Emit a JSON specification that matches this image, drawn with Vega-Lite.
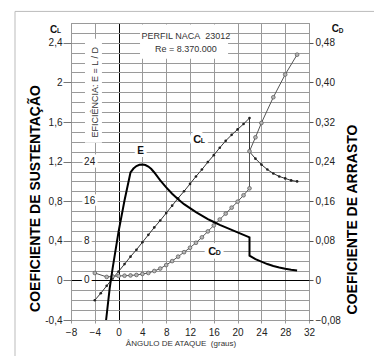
{
  "$schema": "https://vega.github.io/schema/vega-lite/v6.json",
  "width": 238,
  "height": 297,
  "autosize": {"type": "none"},
  "padding": {"left": 71, "top": 23, "right": 65, "bottom": 36},
  "background": "white",
  "config": {
    "font": "Liberation Sans",
    "view": {"stroke": "#888", "strokeWidth": 1},
    "axis": {"labelFont": "Liberation Sans", "titleFont": "Liberation Sans", "labelColor": "#222", "labelFontSize": 10}
  },
  "datasets": {
    "cl": [
      {"a": -4, "CL": -0.2}, {"a": -3, "CL": -0.13}, {"a": -2, "CL": -0.055}, {"a": -1, "CL": 0.02},
      {"a": 0, "CL": 0.09}, {"a": 1, "CL": 0.165}, {"a": 2, "CL": 0.24}, {"a": 3, "CL": 0.31},
      {"a": 4, "CL": 0.385}, {"a": 5, "CL": 0.46}, {"a": 6, "CL": 0.535}, {"a": 7, "CL": 0.605},
      {"a": 8, "CL": 0.68}, {"a": 9, "CL": 0.755}, {"a": 10, "CL": 0.83}, {"a": 11, "CL": 0.9},
      {"a": 12, "CL": 0.975}, {"a": 13, "CL": 1.05}, {"a": 14, "CL": 1.12}, {"a": 15, "CL": 1.195},
      {"a": 16, "CL": 1.265}, {"a": 17, "CL": 1.34}, {"a": 18, "CL": 1.41}, {"a": 19, "CL": 1.47},
      {"a": 20, "CL": 1.525}, {"a": 21, "CL": 1.58}, {"a": 22, "CL": 1.64},
      {"a": 22, "CL": 1.3}, {"a": 23, "CL": 1.23}, {"a": 24, "CL": 1.17}, {"a": 25, "CL": 1.12},
      {"a": 26, "CL": 1.08}, {"a": 27, "CL": 1.05}, {"a": 28, "CL": 1.03}, {"a": 29, "CL": 1.01}, {"a": 30, "CL": 1.0}
    ],
    "cd": [
      {"a": -4, "CD": 0.015}, {"a": -2, "CD": 0.007}, {"a": -1, "CD": 0.008}, {"a": 0, "CD": 0.009},
      {"a": 1, "CD": 0.0095}, {"a": 2, "CD": 0.01}, {"a": 3, "CD": 0.011}, {"a": 4, "CD": 0.013},
      {"a": 5, "CD": 0.015}, {"a": 6, "CD": 0.019}, {"a": 7, "CD": 0.024}, {"a": 8, "CD": 0.031},
      {"a": 9, "CD": 0.039}, {"a": 10, "CD": 0.048}, {"a": 11, "CD": 0.057}, {"a": 12, "CD": 0.066},
      {"a": 13, "CD": 0.076}, {"a": 14, "CD": 0.087}, {"a": 15, "CD": 0.099}, {"a": 16, "CD": 0.111},
      {"a": 17, "CD": 0.123}, {"a": 18, "CD": 0.135}, {"a": 19, "CD": 0.147}, {"a": 20, "CD": 0.159},
      {"a": 21, "CD": 0.172}, {"a": 22, "CD": 0.186},
      {"a": 22, "CD": 0.261}, {"a": 23, "CD": 0.289}, {"a": 24, "CD": 0.318}, {"a": 26, "CD": 0.37},
      {"a": 28, "CD": 0.416}, {"a": 30, "CD": 0.456}
    ],
    "eff": [
      {"a": -2.1, "E": -8}, {"a": -1.5, "E": -1.6}, {"a": -1, "E": 2.5}, {"a": 0, "E": 9.9},
      {"a": 1, "E": 16.2}, {"a": 2, "E": 21.8}, {"a": 2.5, "E": 22.6}, {"a": 3, "E": 23.1},
      {"a": 3.5, "E": 23.35}, {"a": 4, "E": 23.4}, {"a": 4.5, "E": 23.3}, {"a": 5, "E": 23.0},
      {"a": 5.5, "E": 22.5}, {"a": 6, "E": 21.8}, {"a": 7, "E": 20.2}, {"a": 8, "E": 18.8},
      {"a": 9, "E": 17.5}, {"a": 10, "E": 16.4}, {"a": 11, "E": 15.4}, {"a": 12, "E": 14.6},
      {"a": 13, "E": 13.8}, {"a": 14, "E": 13.1}, {"a": 15, "E": 12.4}, {"a": 16, "E": 11.8},
      {"a": 17, "E": 11.2}, {"a": 18, "E": 10.7}, {"a": 19, "E": 10.2}, {"a": 20, "E": 9.7},
      {"a": 21, "E": 9.2}, {"a": 22, "E": 8.7},
      {"a": 22, "E": 5.0}, {"a": 23, "E": 4.3}, {"a": 24, "E": 3.8}, {"a": 25, "E": 3.3},
      {"a": 26, "E": 2.9}, {"a": 27, "E": 2.6}, {"a": 28, "E": 2.35}, {"a": 29, "E": 2.15}, {"a": 30, "E": 2.0}
    ],
    "elab": [{"E": 0}, {"E": 8}, {"E": 16}, {"E": 24}]
  },
  "layer": [
    {
      "data": {"name": "cl"},
      "mark": {"type": "line", "color": "#333", "strokeWidth": 1},
      "encoding": {
        "x": {"field": "a", "type": "quantitative", "scale": {"domain": [-8, 32], "nice": false, "zero": false},
          "axis": {"orient": "bottom", "values": [-8, -4, 0, 4, 8, 12, 16, 20, 24, 28, 32], "grid": true,
            "gridColor": {"condition": {"test": "datum.value == 0", "value": "#000"}, "value": "#9a9a9a"},
            "gridWidth": 1, "domain": false, "tickSize": 3, "tickColor": "#999", "labelFontSize": 10,
            "labelColor": "#222", "labelPadding": 4, "labelFlush": false, "labelOverlap": false, "labelBound": false,
            "title": "ÂNGULO DE ATAQUE\u00a0 (graus)", "titleFontSize": 8, "titleFontWeight": "normal",
            "titleColor": "#333", "titleX": 109.5, "titleY": 23, "titleAlign": "center", "titleBaseline": "middle"}},
        "y": {"field": "CL", "type": "quantitative", "scale": {"domain": [-0.4, 2.6], "nice": false, "zero": false},
          "axis": {"orient": "left",
            "values": [-0.4, -0.3, -0.2, -0.1, 0, 0.1, 0.2, 0.3, 0.4, 0.5, 0.6, 0.7, 0.8, 0.9, 1, 1.1, 1.2, 1.3, 1.4, 1.5, 1.6, 1.7, 1.8, 1.9, 2, 2.1, 2.2, 2.3, 2.4, 2.5, 2.6],
            "grid": true,
            "gridColor": {"condition": {"test": "datum.value == 0", "value": "#000"}, "value": "#9a9a9a"},
            "gridWidth": 1, "domain": false, "tickSize": 8, "tickColor": "#777",
            "tickOpacity": {"condition": {"test": "round(datum.value*10) % 4 == 0", "value": 1}, "value": 0},
            "labelExpr": "round(datum.value*10) % 4 == 0 ? replace(toString(round(datum.value*10)/10), '.', ',') : ''",
            "labelOverlap": false, "labelFlush": false, "labelPadding": 1, "labelFontSize": 10, "labelColor": "#222",
            "title": "COEFICIENTE DE SUSTENTAÇÃO", "titleFontSize": 14, "titleFontWeight": "bold", "titleColor": "#000",
            "titleAngle": 270, "titleX": -36, "titleY": 175, "titleAlign": "center", "titleBaseline": "middle"}},
        "order": {"value": null}
      }
    },
    {
      "data": {"name": "cl"},
      "mark": {"type": "point", "shape": "circle", "filled": true, "size": 7, "color": "#222", "opacity": 1},
      "encoding": {
        "x": {"field": "a", "type": "quantitative", "axis": null},
        "y": {"field": "CL", "type": "quantitative", "scale": {"domain": [-0.4, 2.6], "nice": false, "zero": false}, "axis": null}
      }
    },
    {
      "data": {"name": "cd"},
      "mark": {"type": "line", "color": "#555", "strokeWidth": 1},
      "encoding": {
        "x": {"field": "a", "type": "quantitative", "axis": null},
        "y": {"field": "CD", "type": "quantitative", "scale": {"domain": [-0.08, 0.52], "nice": false, "zero": false},
          "axis": {"orient": "right", "values": [-0.08, 0, 0.08, 0.16, 0.24, 0.32, 0.4, 0.48], "grid": false,
            "domain": false, "tickSize": 4, "tickColor": "#555", "labelPadding": 2, "labelFontSize": 10,
            "labelColor": "#222", "labelFlush": false, "labelOverlap": false,
            "labelExpr": "datum.value == 0 ? '0' : replace(format(datum.value, '.2f'), '.', ',')",
            "title": "COEFICIENTE DE ARRASTO", "titleFontSize": 14, "titleFontWeight": "bold", "titleColor": "#000",
            "titleAngle": 270, "titleX": 43, "titleY": 196, "titleAlign": "center", "titleBaseline": "middle"}},
        "order": {"value": null}
      }
    },
    {
      "data": {"name": "cd"},
      "mark": {"type": "point", "shape": "circle", "filled": true, "size": 14, "fill": "#b5b5b5", "stroke": "#555", "strokeWidth": 0.7, "opacity": 1},
      "encoding": {
        "x": {"field": "a", "type": "quantitative", "axis": null},
        "y": {"field": "CD", "type": "quantitative", "scale": {"domain": [-0.08, 0.52], "nice": false, "zero": false}, "axis": null}
      }
    },
    {
      "data": {"name": "eff"},
      "mark": {"type": "line", "color": "#000", "strokeWidth": 2},
      "encoding": {
        "x": {"field": "a", "type": "quantitative", "axis": null},
        "y": {"field": "E", "type": "quantitative", "scale": {"domain": [-8, 52], "nice": false, "zero": false}, "axis": null},
        "order": {"value": null}
      }
    },
    {
      "data": {"name": "elab"},
      "mark": {"type": "text", "fontSize": 10, "align": "left", "baseline": "middle", "color": "white", "stroke": "white", "strokeWidth": 5},
      "encoding": {
        "x": {"datum": -5.8, "axis": null},
        "y": {"field": "E", "type": "quantitative", "scale": {"domain": [-8, 52], "nice": false, "zero": false}, "axis": null},
        "text": {"field": "E", "type": "quantitative"}
      }
    },
    {
      "data": {"name": "elab"},
      "mark": {"type": "text", "fontSize": 10, "align": "left", "baseline": "middle", "color": "#222"},
      "encoding": {
        "x": {"datum": -5.8, "axis": null},
        "y": {"field": "E", "type": "quantitative", "scale": {"domain": [-8, 52], "nice": false, "zero": false}, "axis": null},
        "text": {"field": "E", "type": "quantitative"}
      }
    },
    {
      "data": {"values": [{}]},
      "mark": {"type": "rect", "color": "white"},
      "encoding": {"x": {"datum": 3.6, "axis": null}, "x2": {"datum": 18.4},
        "y": {"datum": 2.24, "scale": {"domain": [-0.4, 2.6], "nice": false, "zero": false}, "axis": null}, "y2": {"datum": 2.585}}
    },
    {
      "data": {"values": [{}]},
      "mark": {"type": "rect", "color": "white"},
      "encoding": {"x": {"datum": -5.65, "axis": null}, "x2": {"datum": -2.8},
        "y": {"datum": 1.39, "scale": {"domain": [-0.4, 2.6], "nice": false, "zero": false}, "axis": null}, "y2": {"datum": 2.44}}
    },
    {
      "data": {"values": [{}]},
      "mark": {"type": "rule", "color": "#bbb", "strokeWidth": 1},
      "encoding": {"x": {"datum": -17.41, "axis": null},
        "y": {"datum": 2.717, "scale": {"domain": [-0.4, 2.6], "nice": false, "zero": false}, "axis": null}, "y2": {"datum": -1.5}}
    },
    {
      "data": {"values": [{}]},
      "mark": {"type": "rule", "color": "#bbb", "strokeWidth": 1},
      "encoding": {"x": {"datum": -17.41, "axis": null}, "x2": {"datum": 50},
        "y": {"datum": 2.717, "scale": {"domain": [-0.4, 2.6], "nice": false, "zero": false}, "axis": null}}
    },
    {
      "data": {"values": [{"t": "PERFIL NACA\u00a0 23012", "v": 2.465}, {"t": "Re = 8.370.000", "v": 2.333}]},
      "mark": {"type": "text", "fontSize": 9, "color": "#333", "align": "center", "baseline": "middle"},
      "encoding": {"x": {"datum": 11.3, "axis": null},
        "y": {"field": "v", "type": "quantitative", "scale": {"domain": [-0.4, 2.6], "nice": false, "zero": false}, "axis": null},
        "text": {"field": "t"}}
    },
    {
      "data": {"values": [{}]},
      "mark": {"type": "text", "text": "EFICIÊNCIA: E = L / D", "fontSize": 9, "color": "#333", "align": "center", "baseline": "middle", "angle": 270},
      "encoding": {"x": {"datum": -4.03, "axis": null},
        "y": {"datum": 1.9, "scale": {"domain": [-0.4, 2.6], "nice": false, "zero": false}, "axis": null}}
    },
    {
      "data": {"values": [{"t": "E", "a": 3.68, "v": 1.276}]},
      "mark": {"type": "text", "fontSize": 10, "fontWeight": "bold", "align": "center", "baseline": "alphabetic", "color": "white", "stroke": "white", "strokeWidth": 6},
      "encoding": {"x": {"field": "a", "type": "quantitative", "axis": null},
        "y": {"field": "v", "type": "quantitative", "scale": {"domain": [-0.4, 2.6], "nice": false, "zero": false}, "axis": null},
        "text": {"field": "t"}}
    },
    {
      "data": {"values": [{"t": "E", "a": 3.68, "v": 1.276}]},
      "mark": {"type": "text", "fontSize": 10, "fontWeight": "bold", "align": "center", "baseline": "alphabetic", "color": "#111"},
      "encoding": {"x": {"field": "a", "type": "quantitative", "axis": null},
        "y": {"field": "v", "type": "quantitative", "scale": {"domain": [-0.4, 2.6], "nice": false, "zero": false}, "axis": null},
        "text": {"field": "t"}}
    },
    {
      "data": {"values": [{"t": "C", "a": 12.55, "v": 1.384}, {"t": "C", "a": 15.08, "v": 0.259}]},
      "mark": {"type": "text", "fontSize": 11, "fontWeight": "bold", "align": "left", "baseline": "alphabetic", "color": "white", "stroke": "white", "strokeWidth": 8},
      "encoding": {"x": {"field": "a", "type": "quantitative", "axis": null},
        "y": {"field": "v", "type": "quantitative", "scale": {"domain": [-0.4, 2.6], "nice": false, "zero": false}, "axis": null},
        "text": {"field": "t"}}
    },
    {
      "data": {"values": [{"t": "L", "a": 12.55, "v": 1.384}, {"t": "D", "a": 15.08, "v": 0.259}]},
      "mark": {"type": "text", "fontSize": 7, "fontWeight": "bold", "align": "left", "baseline": "alphabetic", "dx": 7.5, "color": "white", "stroke": "white", "strokeWidth": 6},
      "encoding": {"x": {"field": "a", "type": "quantitative", "axis": null},
        "y": {"field": "v", "type": "quantitative", "scale": {"domain": [-0.4, 2.6], "nice": false, "zero": false}, "axis": null},
        "text": {"field": "t"}}
    },
    {
      "data": {"values": [{"t": "C", "a": 12.55, "v": 1.384}, {"t": "C", "a": 15.08, "v": 0.259}]},
      "mark": {"type": "text", "fontSize": 11, "fontWeight": "bold", "align": "left", "baseline": "alphabetic", "color": "#111"},
      "encoding": {"x": {"field": "a", "type": "quantitative", "axis": null},
        "y": {"field": "v", "type": "quantitative", "scale": {"domain": [-0.4, 2.6], "nice": false, "zero": false}, "axis": null},
        "text": {"field": "t"}}
    },
    {
      "data": {"values": [{"t": "L", "a": 12.55, "v": 1.384}, {"t": "D", "a": 15.08, "v": 0.259}]},
      "mark": {"type": "text", "fontSize": 7, "fontWeight": "bold", "align": "left", "baseline": "alphabetic", "dx": 7.5, "color": "#111"},
      "encoding": {"x": {"field": "a", "type": "quantitative", "axis": null},
        "y": {"field": "v", "type": "quantitative", "scale": {"domain": [-0.4, 2.6], "nice": false, "zero": false}, "axis": null},
        "text": {"field": "t"}}
    },
    {
      "data": {"values": [{"t": "C", "a": -11.53, "v": 2.495}, {"t": "C", "a": 35.82, "v": 2.505}]},
      "mark": {"type": "text", "fontSize": 10, "fontWeight": "bold", "align": "left", "baseline": "alphabetic", "color": "#111"},
      "encoding": {"x": {"field": "a", "type": "quantitative", "axis": null},
        "y": {"field": "v", "type": "quantitative", "scale": {"domain": [-0.4, 2.6], "nice": false, "zero": false}, "axis": null},
        "text": {"field": "t"}}
    },
    {
      "data": {"values": [{"t": "L", "a": -11.53, "v": 2.495}, {"t": "D", "a": 35.82, "v": 2.495}]},
      "mark": {"type": "text", "fontSize": 6.5, "fontWeight": "bold", "align": "left", "baseline": "alphabetic", "dx": 7, "color": "#111"},
      "encoding": {"x": {"field": "a", "type": "quantitative", "axis": null},
        "y": {"field": "v", "type": "quantitative", "scale": {"domain": [-0.4, 2.6], "nice": false, "zero": false}, "axis": null},
        "text": {"field": "t"}}
    }
  ],
  "resolve": {"scale": {"y": "independent"}, "axis": {"x": "independent"}}
}
